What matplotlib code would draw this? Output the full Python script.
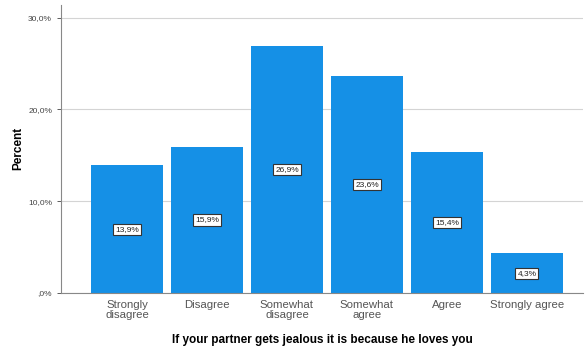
import matplotlib.pyplot as plt
from matplotlib.ticker import FuncFormatter

categories = ['Strongly\ndisagree', 'Disagree', 'Somewhat\ndisagree',
              'Somewhat\nagree', 'Agree', 'Strongly agree']
percents = [13.9, 15.9, 26.9, 23.6, 15.4, 4.3]

plt.rcParams['font.family'] = ['Liberation Sans', 'DejaVu Sans']

fig = plt.figure(figsize=(5.87, 3.47), dpi=100)
ax = fig.add_axes([0.104, 0.156, 0.889, 0.83])

x = range(len(categories))
ax.bar(x, percents, width=0.9, color='#1590e6', zorder=2)

for i, p in enumerate(percents):
    lbl = ('%.1f%%' % p).replace('.', ',')
    ax.text(i, p / 2, lbl, ha='center', va='center', fontsize=6, color='#222222',
            bbox=dict(boxstyle='square,pad=0.25', fc='white', ec='#333333', lw=0.8),
            zorder=3)


def pct(v, pos):
    s = ('%.1f%%' % v).replace('.', ',')
    return ',0%' if v == 0 else s


ax.yaxis.set_major_formatter(FuncFormatter(pct))
ax.set_yticks([0, 10, 20, 30])
ax.set_ylim(0, 31.4)
ax.set_xlim(-0.825, 5.7)
ax.set_xticks(list(x))
ax.set_xticklabels(categories, fontsize=8.2, color='#555555', linespacing=1.0)
ax.tick_params(axis='y', labelsize=6, colors='#444444', length=3, width=0.6)
ax.tick_params(axis='x', length=0, pad=5)
ax.grid(axis='y', color='#d4d4d4', lw=0.8, zorder=0)

for s in ['top', 'right']:
    ax.spines[s].set_visible(False)
ax.spines['left'].set_color('#888888')
ax.spines['bottom'].set_color('#888888')

ax.set_ylabel('Percent', fontsize=8.5, fontweight='bold')
ax.yaxis.set_label_coords(-0.07, 0.5)
ax.set_xlabel('If your partner gets jealous it is because he loves you',
              fontsize=8.5, fontweight='bold', labelpad=10)

fig.savefig('out.png', dpi=100)
